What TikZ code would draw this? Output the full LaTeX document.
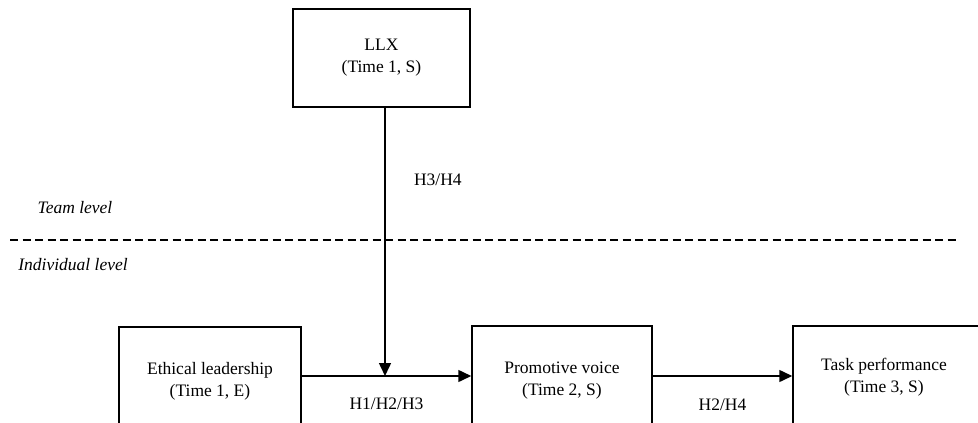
\documentclass[tikz,border=0pt]{standalone}
\usepackage{fontspec}
\setmainfont{Liberation Serif}
\usetikzlibrary{arrows.meta,positioning}

\tikzset{
  varbox/.style={draw,line width=1.5pt,inner sep=0pt},
  boxtext/.style={align=center,font=\fontsize{17.5}{22}\selectfont},
  path/.style={line width=1.5pt,-{Triangle[length=13pt,width=12pt]}},
  hyp/.style={font=\fontsize{17.5}{22}\selectfont},
  level/.style={font=\fontsize{17.5}{22}\selectfont\itshape}
}

\begin{document}
\begin{tikzpicture}[x=1pt,y=-1pt]
\path[use as bounding box,clip] (0,0) rectangle (978,423);
% variables
\node[varbox,boxtext,minimum width=177pt,minimum height=98pt] (llx) at (381.5,58) {LLX\\(Time 1, S)};
\node[varbox,minimum width=182pt,minimum height=97pt] (ethical) at (210,375.5) {};
\node[boxtext] (ethicaltxt) at (210,381) {Ethical leadership\\(Time 1, E)};
\node[varbox,minimum width=180pt,minimum height=98pt] (voice) at (562,375) {};
\node[boxtext] (voicetxt) at (562,380.5) {Promotive voice\\(Time 2, S)};
\node[varbox,minimum width=190pt,minimum height=98pt] (task) at (888,375) {};
\node[boxtext] (tasktxt) at (884,377.5) {Task performance\\(Time 3, S)};
% levels
\coordinate (dashL) at (10,240);
\coordinate (dashR) at (958,240);
\draw[line width=1.2pt,dash pattern=on 8pt off 4.5pt] (dashL) -- (dashR);
\node[level] (team) at (75,208) {Team level};
\node[level] (indiv) at (73,265) {Individual level};
% paths
\coordinate (meet) at (385,376);
\draw[path] (llx.south -| meet) -- (meet) node[hyp,pos=0.27,right=25pt] (h34) {H3/H4};
\draw[path] (ethical.east |- meet) -- (voice.west |- meet) node[hyp,midway,below=18pt] (h123) {H1/H2/H3};
\draw[path] (voice.east |- meet) -- (task.west |- meet) node[hyp,midway,below=19pt] (h24) {H2/H4};
\end{tikzpicture}
\end{document}
